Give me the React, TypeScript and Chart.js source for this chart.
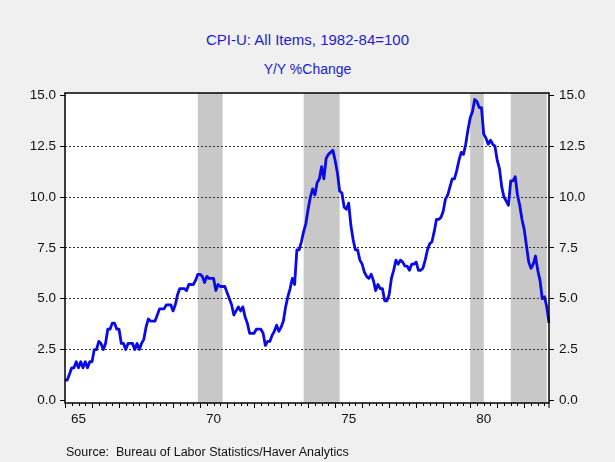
import React, { useEffect, useRef } from "react";
import { Chart, registerables, Plugin } from "chart.js";

Chart.register(...registerables);

const FONT = "'Liberation Sans', Arial, sans-serif";
const START_YEAR = 1965;

// CPI-U all items, Y/Y % change, monthly Jan 1965 - Dec 1982
const cpiYoY = [
  1.0, 1.0, 1.3, 1.6, 1.6, 1.9, 1.6, 1.9, 1.6, 1.9, 1.6, 1.9,
  1.9, 2.5, 2.5, 2.9, 2.8, 2.5, 2.8, 3.5, 3.5, 3.8, 3.8, 3.5,
  3.5, 2.8, 2.8, 2.5, 2.8, 2.8, 2.8, 2.5, 2.8, 2.5, 2.8, 3.0,
  3.6, 4.0, 3.9, 3.9, 3.9, 4.2, 4.5, 4.5, 4.5, 4.7, 4.7, 4.7,
  4.4, 4.7, 5.2, 5.5, 5.5, 5.5, 5.4, 5.7, 5.7, 5.7, 5.9, 6.2,
  6.2, 6.1, 5.8, 6.1, 6.0, 6.0, 6.0, 5.4, 5.7, 5.6, 5.6, 5.6,
  5.3, 5.0, 4.7, 4.2, 4.4, 4.6, 4.4, 4.6, 4.1, 3.8, 3.3, 3.3,
  3.3, 3.5, 3.5, 3.5, 3.3, 2.7, 2.9, 2.9, 3.2, 3.4, 3.7, 3.4,
  3.6, 3.9, 4.6, 5.1, 5.5, 6.0, 5.7, 7.4, 7.4, 7.8, 8.3, 8.7,
  9.4, 10.0, 10.4, 10.1, 10.7, 10.9, 11.5, 10.9, 11.9, 12.1, 12.2, 12.3,
  11.8, 11.2, 10.3, 10.2, 9.5, 9.4, 9.7, 8.6, 7.9, 7.4, 7.4, 6.9,
  6.7, 6.3, 6.1, 6.0, 6.2, 5.9, 5.4, 5.7, 5.5, 5.5, 4.9, 4.9,
  5.2, 6.0, 6.4, 6.9, 6.7, 6.9, 6.8, 6.6, 6.6, 6.4, 6.7, 6.7,
  6.8, 6.4, 6.4, 6.5, 6.9, 7.4, 7.7, 7.8, 8.3, 8.9, 8.9, 9.0,
  9.3, 9.9, 10.1, 10.5, 10.9, 10.9, 11.3, 11.8, 12.2, 12.1, 12.6, 13.3,
  13.9, 14.2, 14.8, 14.7, 14.4, 14.4, 13.1, 12.9, 12.6, 12.8, 12.6, 12.5,
  11.8, 11.4, 10.5, 10.0, 9.8, 9.6, 10.8, 10.8, 11.0, 10.1, 9.6, 8.9,
  8.4, 7.6, 6.8, 6.5, 6.7, 7.1, 6.4, 5.9, 5.0, 5.1, 4.6, 3.8,
];

const yTicks = [0, 2.5, 5, 7.5, 10, 12.5, 15];
const xTickLabels = ["65", "70", "75", "80"];
const recessionStart = ["1969-12", "1973-11", "1980-01", "1981-07"];
const recessionEnd = ["1970-11", "1975-03", "1980-07", "1982-11"];

const months = cpiYoY.map((_, i) => {
  const y = START_YEAR + Math.floor(i / 12);
  const m = (i % 12) + 1;
  return `${y}-${String(m).padStart(2, "0")}`;
});

const framePlugin: Plugin<"line"> = {
  id: "frame",
  beforeDraw(chart) {
    const { ctx, chartArea: a } = chart;
    const x = chart.scales.x;
    ctx.save();
    ctx.fillStyle = "#ffffff";
    ctx.fillRect(a.left, a.top, a.right - a.left, a.bottom - a.top);
    ctx.fillStyle = "#c8c8c8";
    recessionStart.forEach((s, i) => {
      const x0 = x.getPixelForValue(months.indexOf(s));
      const x1 = x.getPixelForValue(months.indexOf(recessionEnd[i]));
      ctx.fillRect(x0, a.top, x1 - x0, a.bottom - a.top);
    });
    ctx.restore();
  },
  afterDraw(chart) {
    const { ctx, chartArea: a } = chart;
    const x = chart.scales.x;
    ctx.save();
    ctx.strokeStyle = "#000";
    ctx.lineWidth = 1.5;
    ctx.strokeRect(a.left, a.top, a.right - a.left, a.bottom - a.top);

    // quarterly minor ticks, yearly major ticks
    ctx.lineWidth = 1;
    for (let q = 0; q <= cpiYoY.length; q += 3) {
      const px = Math.min(Math.round(x.getPixelForValue(q)) + 0.5, a.right);
      const len = q % 12 === 0 ? 5 : 3;
      ctx.beginPath();
      ctx.moveTo(px, a.bottom);
      ctx.lineTo(px, a.bottom + len);
      ctx.stroke();
    }

    ctx.fillStyle = "#111";
    ctx.font = `13.5px ${FONT}`;
    ctx.textAlign = "center";
    ctx.textBaseline = "middle";
    xTickLabels.forEach((lab) => {
      const idx = (1900 + Number(lab) - START_YEAR) * 12;
      const mid = (x.getPixelForValue(idx) + x.getPixelForValue(idx + 12)) / 2;
      ctx.fillText(lab, mid, a.bottom + 16);
    });
    ctx.restore();
  },
};

const App: React.FC = () => {
  const chartRef = useRef<HTMLCanvasElement>(null);
  const chartInstance = useRef<Chart | null>(null);

  useEffect(() => {
    document.body.style.margin = "0";
    if (!chartRef.current) return;
    const ctx = chartRef.current.getContext("2d");
    if (!ctx) return;
    if (chartInstance.current) chartInstance.current.destroy();

    const tickFont = { family: FONT, size: 13.5 };

    chartInstance.current = new Chart(ctx, {
      type: "line",
      data: {
        labels: months,
        datasets: [
          {
            label: "CPI-U Y/Y %",
            data: cpiYoY,
            borderColor: "#0a0ae8",
            borderWidth: 2.8,
            pointRadius: 0,
            tension: 0,
            borderJoinStyle: "round",
          },
        ],
      },
      options: {
        responsive: false,
        animation: false,
        devicePixelRatio: 1,
        layout: { padding: { top: 93, bottom: 59, left: 0, right: 0 } },
        plugins: {
          legend: { display: false },
          tooltip: { enabled: false },
        },
        scales: {
          x: {
            type: "category",
            display: false,
            offset: false,
          },
          y: {
            position: "left",
            min: -0.13,
            max: 15.12,
            afterBuildTicks: (axis) => {
              axis.ticks = yTicks.map((v) => ({ value: v }));
            },
            afterFit: (axis) => {
              axis.width = 65;
            },
            ticks: {
              font: tickFont,
              color: "#111",
              padding: 4,
              callback: (v) => Number(v).toFixed(1),
            },
            grid: {
              color: (c) =>
                c.tick && (c.tick.value === 0 || c.tick.value === 15)
                  ? "rgba(0,0,0,0)"
                  : "#333",
              lineWidth: 1,
              tickColor: "#000",
              tickLength: 5,
              tickBorderDash: [],
            },
            border: { display: false, dash: [2, 2] },
          },
          y2: {
            position: "right",
            min: -0.13,
            max: 15.12,
            afterBuildTicks: (axis) => {
              axis.ticks = yTicks.map((v) => ({ value: v }));
            },
            afterFit: (axis) => {
              axis.width = 66;
            },
            ticks: {
              font: tickFont,
              color: "#111",
              padding: 5,
              callback: (v) => Number(v).toFixed(1),
            },
            grid: {
              drawOnChartArea: false,
              tickColor: "#000",
              tickLength: 5,
            },
            border: { display: false },
          },
        },
      },
      plugins: [framePlugin],
    });

    return () => {
      if (chartInstance.current) {
        chartInstance.current.destroy();
        chartInstance.current = null;
      }
    };
  }, []);

  return (
    <div
      style={{
        position: "relative",
        width: 615,
        height: 462,
        background: "#f0f0f0",
        fontFamily: FONT,
        overflow: "hidden",
      }}
    >
      <div
        style={{
          position: "absolute",
          top: 31,
          width: "100%",
          textAlign: "center",
          color: "#1c1cd0",
          fontSize: 15,
          lineHeight: "18px",
        }}
      >
        CPI-U: All Items, 1982-84=100
      </div>
      <div
        style={{
          position: "absolute",
          top: 60,
          width: "100%",
          textAlign: "center",
          color: "#1c1cd0",
          fontSize: 14,
          lineHeight: "18px",
        }}
      >
        Y/Y %Change
      </div>
      <canvas
        ref={chartRef}
        width={615}
        height={462}
        style={{ position: "absolute", left: 0, top: 0 }}
      />
      <div
        style={{
          position: "absolute",
          left: 66,
          top: 443,
          color: "#111",
          fontSize: 12.5,
          lineHeight: "18px",
          whiteSpace: "nowrap",
        }}
      >
        Source:&nbsp; Bureau of Labor Statistics/Haver Analytics
      </div>
    </div>
  );
};

export default App;
